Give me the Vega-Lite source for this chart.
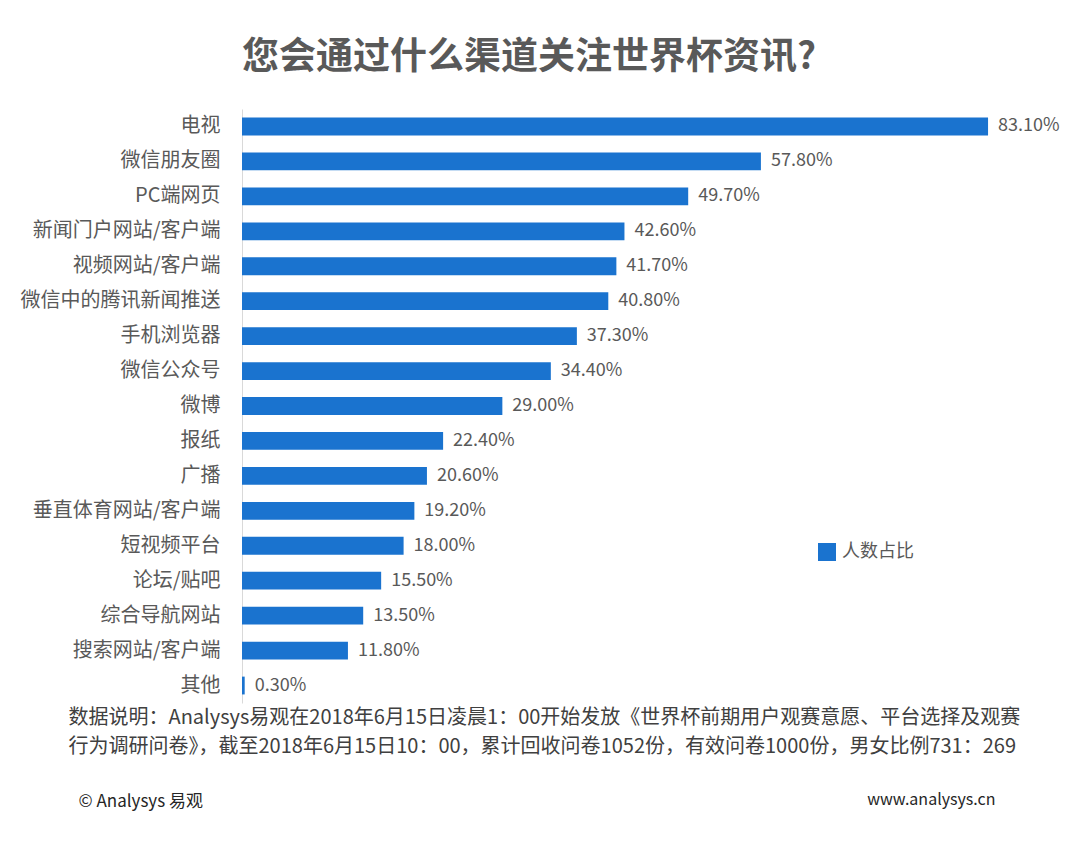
{
  "$schema": "https://vega.github.io/schema/vega-lite/v6.json",
  "autosize": {"type": "none"},
  "width": 808,
  "height": 594,
  "padding": {"left": 242, "top": 109, "right": 30, "bottom": 158},
  "background": "white",
  "title": {
    "text": "您会通过什么渠道关注世界杯资讯?",
    "anchor": "start",
    "frame": "group",
    "offset": 32,
    "fontSize": 37,
    "fontWeight": "bold",
    "color": "#595959",
    "font": "Noto Sans CJK SC"
  },
  "data": {
    "values": [
      {"channel": "电视", "v": 0.831},
      {"channel": "微信朋友圈", "v": 0.578},
      {"channel": "PC端网页", "v": 0.497},
      {"channel": "新闻门户网站/客户端", "v": 0.426},
      {"channel": "视频网站/客户端", "v": 0.417},
      {"channel": "微信中的腾讯新闻推送", "v": 0.408},
      {"channel": "手机浏览器", "v": 0.373},
      {"channel": "微信公众号", "v": 0.344},
      {"channel": "微博", "v": 0.29},
      {"channel": "报纸", "v": 0.224},
      {"channel": "广播", "v": 0.206},
      {"channel": "垂直体育网站/客户端", "v": 0.192},
      {"channel": "短视频平台", "v": 0.18},
      {"channel": "论坛/贴吧", "v": 0.155},
      {"channel": "综合导航网站", "v": 0.135},
      {"channel": "搜索网站/客户端", "v": 0.118},
      {"channel": "其他", "v": 0.003}
    ]
  },
  "layer": [
    {
      "mark": {"type": "bar"},
      "encoding": {
        "y": {
          "field": "channel",
          "type": "nominal",
          "sort": null,
          "scale": {"paddingInner": 0.49, "paddingOuter": 0.245},
          "axis": {
            "title": "© Analysys 易观",
            "titleAngle": 0,
            "titleX": -164,
            "titleY": 692,
            "titleAlign": "left",
            "titleBaseline": "middle",
            "titleFontSize": 17,
            "titleFontWeight": "normal",
            "titleColor": "#262626",
            "titleFont": "Noto Sans CJK SC",
            "labelFontSize": 20,
            "labelLimit": 300,
            "labelColor": "#595959",
            "labelFont": "Noto Sans CJK SC",
            "labelPadding": 22,
            "ticks": false,
            "domainColor": "#d9d9d9",
            "grid": false
          }
        },
        "x": {
          "field": "v",
          "type": "quantitative",
          "scale": {"domain": [0, 0.9]},
          "axis": {
            "orient": "bottom",
            "title": "数据说明：Analysys易观在2018年6月15日凌晨1：00开始发放《世界杯前期用户观赛意愿、平台选择及观赛",
            "titleX": -174,
            "titleY": 14,
            "titleAlign": "left",
            "titleBaseline": "middle",
            "titleFontSize": 20,
            "titleFontWeight": "normal",
            "titleColor": "#404040",
            "titleFont": "Noto Sans CJK SC",
            "labels": false,
            "ticks": false,
            "domain": false,
            "grid": false
          }
        },
        "color": {
          "datum": "人数占比",
          "scale": {"range": ["#1a73cf"]},
          "legend": {
            "title": null,
            "orient": "none",
            "legendX": 576,
            "legendY": 434,
            "padding": 0,
            "symbolType": "square",
            "symbolSize": 324,
            "symbolStrokeWidth": 0,
            "labelFontSize": 18,
            "labelColor": "#595959",
            "labelFont": "Noto Sans CJK SC",
            "labelOffset": 6,
            "encode": {"symbols": {"update": {"fill": {"value": "#1a8de0"}}}}
          }
        }
      }
    },
    {
      "mark": {
        "type": "text",
        "align": "left",
        "baseline": "middle",
        "dx": 10,
        "fontSize": 18,
        "color": "#595959",
        "font": "Noto Sans CJK SC"
      },
      "encoding": {
        "y": {
          "field": "channel",
          "type": "nominal",
          "sort": null,
          "axis": {
            "orient": "right",
            "title": "www.analysys.cn",
            "titleAngle": 0,
            "titleX": -55,
            "titleY": 690,
            "titleAlign": "right",
            "titleBaseline": "middle",
            "titleFontSize": 16,
            "titleFontWeight": "normal",
            "titleColor": "#262626",
            "titleFont": "Noto Sans CJK SC",
            "labels": false,
            "ticks": false,
            "domain": false,
            "grid": false
          }
        },
        "x": {
          "field": "v",
          "type": "quantitative",
          "axis": {
            "orient": "bottom",
            "title": "行为调研问卷》，截至2018年6月15日10：00，累计回收问卷1052份，有效问卷1000份，男女比例731：269",
            "titleX": -174,
            "titleY": 43,
            "titleAlign": "left",
            "titleBaseline": "middle",
            "titleFontSize": 20,
            "titleFontWeight": "normal",
            "titleColor": "#404040",
            "titleFont": "Noto Sans CJK SC",
            "labels": false,
            "ticks": false,
            "domain": false,
            "grid": false
          }
        },
        "text": {"field": "v", "format": ".2%"}
      }
    }
  ],
  "resolve": {"axis": {"y": "independent", "x": "independent"}},
  "config": {"view": {"stroke": null}}
}
